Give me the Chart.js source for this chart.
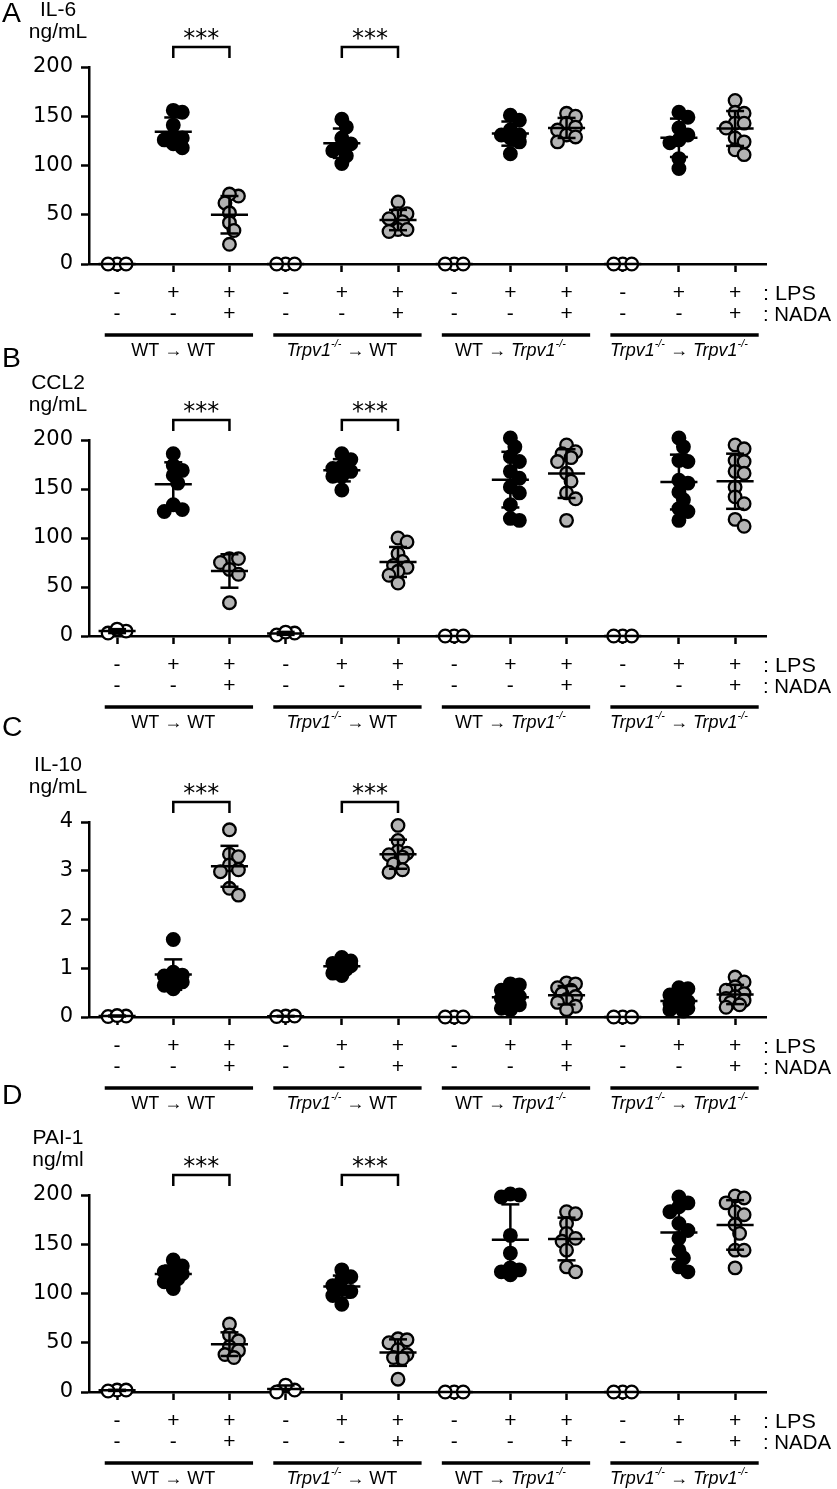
<!DOCTYPE html>
<html>
<head>
<meta charset="utf-8">
<script src="https://cdn.jsdelivr.net/npm/chart.js@4.4.1/dist/chart.umd.min.js"></script>
<style>
  html, body { margin: 0; padding: 0; background: #fff; }
  #figure { position: relative; width: 837px; height: 1489px; }
  #figure canvas { position: absolute; left: 0; }
</style>
</head>
<body>
<div id="figure">
  <canvas id="panelA"></canvas>
  <canvas id="panelB"></canvas>
  <canvas id="panelC"></canvas>
  <canvas id="panelD"></canvas>
</div>
<script>
// treatment rows under every column of dots
const lpsRow  = ['-', '+', '+', '-', '+', '+', '-', '+', '+', '-', '+', '+'];
const nadaRow = ['-', '-', '+', '-', '-', '+', '-', '-', '+', '-', '-', '+'];

// bone marrow donor -> recipient groups (text runs, italic gene names)
const groupLabels = [
  [{ t: 'WT → WT' }],
  [{ t: 'Trpv1', i: true }, { t: '-/-', i: true, sup: true }, { t: ' → WT' }],
  [{ t: 'WT → ' }, { t: 'Trpv1', i: true }, { t: '-/-', i: true, sup: true }],
  [{ t: 'Trpv1', i: true }, { t: '-/-', i: true, sup: true }, { t: ' → ' },
   { t: 'Trpv1', i: true }, { t: '-/-', i: true, sup: true }]
];

// one small array per column (12 columns per panel)
const il6 = [
  [0, 0, 0],
  [154, 156, 141, 130, 128, 126, 122, 118],
  [69, 71, 62, 52, 42, 34, 20],
  [0, 0, 0],
  [147, 139, 128, 122, 118, 115, 110, 102],
  [63, 51, 51, 46, 43, 35, 33, 35],
  [0, 0, 0],
  [151, 146, 136, 131, 131, 128, 124, 112],
  [153, 150, 143, 139, 136, 131, 129, 124],
  [0, 0, 0],
  [154, 149, 138, 131, 126, 123, 107, 97],
  [166, 154, 153, 143, 143, 138, 128, 124, 116, 111]
];

const ccl2 = [
  [5, 3, 7],
  [186, 174, 169, 164, 156, 134, 129, 127],
  [79, 79, 75, 68, 63, 34],
  [3, 1, 4],
  [186, 180, 173, 171, 168, 163, 163, 149],
  [100, 96, 84, 76, 72, 70, 66, 62, 54],
  [0, 0, 0],
  [202, 193, 183, 178, 168, 161, 152, 146, 134, 120, 118],
  [195, 188, 186, 182, 178, 166, 158, 146, 140, 118],
  [0, 0, 0],
  [202, 193, 179, 178, 159, 156, 147, 139, 130, 127, 118],
  [195, 191, 179, 178, 168, 166, 152, 142, 135, 119, 112]
];

const il10 = [
  [0.02, 0.01, 0.03],
  [1.59, 0.92, 0.86, 0.84, 0.80, 0.72, 0.65, 0.58],
  [3.84, 3.34, 3.29, 3.12, 3.02, 2.98, 2.64, 2.50],
  [0.02, 0.02, 0.01],
  [1.22, 1.15, 1.10, 1.08, 1.05, 1.02, 0.98, 0.90, 0.85],
  [3.93, 3.62, 3.40, 3.36, 3.33, 3.28, 3.14, 3.02, 2.97],
  [0, 0, 0],
  [0.68, 0.66, 0.55, 0.48, 0.42, 0.38, 0.32, 0.25, 0.18, 0.15],
  [0.70, 0.68, 0.60, 0.55, 0.48, 0.42, 0.36, 0.30, 0.22, 0.15],
  [0, 0, 0],
  [0.60, 0.58, 0.45, 0.38, 0.32, 0.28, 0.22, 0.18, 0.15, 0.12],
  [0.82, 0.72, 0.62, 0.55, 0.48, 0.42, 0.38, 0.34, 0.30, 0.25, 0.20]
];

const pai1 = [
  [2, 1, 2],
  [134, 128, 124, 122, 120, 118, 115, 112, 105],
  [69, 58, 52, 46, 42, 38, 35],
  [2, 7, 0],
  [124, 117, 114, 108, 104, 102, 98, 89],
  [54, 53, 50, 43, 38, 35, 34, 13],
  [0, 0, 0],
  [201, 200, 198, 159, 141, 126, 124, 122, 119],
  [183, 181, 171, 161, 156, 153, 144, 127, 122],
  [0, 0, 0],
  [198, 192, 188, 183, 171, 164, 156, 144, 136, 127, 122],
  [199, 197, 192, 183, 180, 170, 161, 144, 144, 126]
];

const sigPairs = [[1, 2], [4, 5]];

const panels = [
  { id: 'panelA', letter: 'A', name: 'IL-6',  unit: 'ng/mL', values: il6,  yMax: 200, yStep: 50, canvasTop: 0,    plotTop: 67,   plotBottom: 264,  letterDy: -52 },
  { id: 'panelB', letter: 'B', name: 'CCL2',  unit: 'ng/mL', values: ccl2, yMax: 200, yStep: 50, canvasTop: 345,  plotTop: 440,  plotBottom: 636,  letterDy: -80 },
  { id: 'panelC', letter: 'C', name: 'IL-10', unit: 'ng/mL', values: il10, yMax: 4,   yStep: 1,  canvasTop: 712,  plotTop: 822,  plotBottom: 1017, letterDy: -93 },
  { id: 'panelD', letter: 'D', name: 'PAI-1', unit: 'ng/ml', values: pai1, yMax: 200, yStep: 50, canvasTop: 1080, plotTop: 1195, plotBottom: 1392, letterDy: -98 }
];

const SANS = '"Liberation Sans", Arial, Helvetica, sans-serif';
const fills = ['#ffffff', '#000000', '#b3b3b3'];
const kinds = ['Vehicle', 'LPS', 'LPS + NADA'];
const X_MIN = -0.5, X_MAX = 11.55, AXIS_LEFT = 89, AXIS_RIGHT = 766;

const mean = a => a.reduce((s, v) => s + v, 0) / a.length;
const stdev = a => {
  if (a.length < 2) return 0;
  const m = mean(a);
  return Math.sqrt(a.reduce((s, v) => s + (v - m) * (v - m), 0) / (a.length - 1));
};

// compact beeswarm: dots may overlap a little, spread is capped (pixels in, x units out)
function swarm(vals, pxPerY, pxPerX, minDist, maxOff) {
  const order = vals.map((v, k) => k).sort((a, b) => vals[b] - vals[a]);
  const placed = [];
  const offs = vals.map(() => 0);
  const step = minDist / 2;
  const cands = [0];
  for (let d = step; d <= maxOff + 0.01; d += step) cands.push(d, -d);
  order.forEach(k => {
    const yk = vals[k] * pxPerY;
    const gap = dx => placed.reduce((g, p) => Math.min(g, Math.hypot(p.x - dx, p.y - yk)), Infinity);
    let best = cands.find(dx => gap(dx) >= minDist);
    if (best === undefined) best = cands.reduce((b, dx) => (gap(dx) > gap(b) ? dx : b), 0);
    offs[k] = best;
    placed.push({ x: best, y: yk });
  });
  return offs.map(o => o / pxPerX);
}

function wideText(ctx, text, x, y, font, align, sx) {
  ctx.save();
  ctx.font = font;
  ctx.textAlign = align;
  ctx.translate(x, y);
  ctx.scale(sx, 1);
  ctx.fillText(text, 0, 0);
  ctx.restore();
}

function drawRuns(ctx, runs, cx, cy, size, sx) {
  const fontFor = r => (r.i ? 'italic ' : '') + (r.sup ? size * 0.6 : size) + 'px ' + SANS;
  let total = 0;
  runs.forEach(r => { ctx.font = fontFor(r); total += ctx.measureText(r.t).width * sx; });
  let x = cx - total / 2;
  ctx.save();
  ctx.textBaseline = 'middle';
  runs.forEach(r => {
    ctx.font = fontFor(r);
    const w = ctx.measureText(r.t).width;
    ctx.save();
    ctx.translate(x, cy - (r.sup ? size * 0.38 : 0));
    ctx.scale(sx, 1);
    ctx.textAlign = 'left';
    ctx.fillText(r.t, 0, 0);
    ctx.restore();
    x += w * sx;
  });
  ctx.restore();
}

function makeDecorations(panel) {
  return {
    id: 'decorations',
    afterDatasetsDraw(chart) {
      const { ctx, scales: { x, y } } = chart;
      ctx.save();
      ctx.strokeStyle = '#000';
      ctx.lineWidth = 2.5;
      const seg = (x1, y1, x2, y2) => { ctx.beginPath(); ctx.moveTo(x1, y1); ctx.lineTo(x2, y2); ctx.stroke(); };
      panel.values.forEach((vals, i) => {
        const m = mean(vals), sd = stdev(vals);
        const xc = x.getPixelForValue(i);
        const hm = x.getPixelForValue(i + 0.33) - xc;
        const hc = x.getPixelForValue(i + 0.16) - xc;
        const ym = y.getPixelForValue(m);
        seg(xc - hm, ym, xc + hm, ym);
        if (sd > 0) {
          const yt = y.getPixelForValue(m + sd), yb = y.getPixelForValue(Math.max(0, m - sd));
          seg(xc, yt, xc, yb);
          seg(xc - hc, yt, xc + hc, yt);
          if (m - sd > 0) seg(xc - hc, yb, xc + hc, yb);
        }
      });
      ctx.restore();
    },
    afterDraw(chart) {
      const { ctx, chartArea: area, scales: { x } } = chart;
      ctx.save();
      ctx.fillStyle = '#000';
      ctx.strokeStyle = '#000';
      ctx.textBaseline = 'middle';

      // panel letter, analyte and unit
      wideText(ctx, panel.letter, 2, area.top + panel.letterDy, '27px ' + SANS, 'left', 1.05);
      wideText(ctx, panel.name, 58, area.top - 57, '21px ' + SANS, 'center', 1.0);
      wideText(ctx, panel.unit, 58, area.top - 35, '21px ' + SANS, 'center', 1.0);

      // significance brackets
      ctx.lineWidth = 2.5;
      sigPairs.forEach(([a, b]) => {
        const x1 = x.getPixelForValue(a), x2 = x.getPixelForValue(b);
        ctx.beginPath();
        ctx.moveTo(x1, area.top - 9);
        ctx.lineTo(x1, area.top - 20);
        ctx.lineTo(x2, area.top - 20);
        ctx.lineTo(x2, area.top - 9);
        ctx.stroke();
        ctx.save();
        ctx.textBaseline = 'alphabetic';
        wideText(ctx, '***', (x1 + x2) / 2, area.top - 21, '24px "DejaVu Sans", ' + SANS, 'center', 1);
        ctx.restore();
      });

      // row captions
      wideText(ctx, ': LPS', 763, area.bottom + 30, '20px ' + SANS, 'left', 1.08);
      wideText(ctx, ': NADA', 763, area.bottom + 51, '20px ' + SANS, 'left', 1.02);

      // group underlines and names
      ctx.lineWidth = 3.5;
      groupLabels.forEach((runs, g) => {
        const xa = x.getPixelForValue(g * 3 - 0.22), xb = x.getPixelForValue(g * 3 + 2.42);
        ctx.beginPath();
        ctx.moveTo(xa, area.bottom + 71);
        ctx.lineTo(xb, area.bottom + 71);
        ctx.stroke();
        drawRuns(ctx, runs, x.getPixelForValue(g * 3 + 1), area.bottom + 87, 18, 1.0);
      });
      ctx.restore();
    }
  };
}

Chart.defaults.color = '#000';
Chart.defaults.font.family = SANS;

panels.forEach(panel => {
  const canvasBottom = panel.plotBottom + 97;
  const height = (panel.id === 'panelD' ? 1489 : canvasBottom) - panel.canvasTop;
  const el = document.getElementById(panel.id);
  el.width = 837;
  el.height = height;
  el.style.top = panel.canvasTop + 'px';
  el.style.width = '837px';
  el.style.height = height + 'px';

  const pxPerX = (AXIS_RIGHT - AXIS_LEFT) / (X_MAX - X_MIN);
  const pxPerY = (panel.plotBottom - panel.plotTop) / panel.yMax;

  const datasets = kinds.map((label, k) => ({
    label,
    data: [],
    pointRadius: 6.3,
    pointHoverRadius: 6.3,
    pointBackgroundColor: fills[k],
    pointBorderColor: '#000',
    pointBorderWidth: 2.3,
    showLine: false,
    clip: false
  }));
  panel.values.forEach((vals, i) => {
    const offs = swarm(vals, pxPerY, pxPerX, 9, 13);
    vals.forEach((v, j) => datasets[i % 3].data.push({ x: i + offs[j], y: v }));
  });

  const axisGrid = { display: true, drawOnChartArea: false, drawTicks: true, tickLength: 8, tickWidth: 2.5, tickColor: '#000' };
  const axisBorder = { display: true, color: '#000', width: 2.5 };

  new Chart(el, {
    type: 'scatter',
    data: { datasets },
    options: {
      responsive: false,
      animation: false,
      devicePixelRatio: 1,
      events: [],
      layout: { padding: { left: 0, right: 837 - AXIS_RIGHT, top: panel.plotTop - panel.canvasTop, bottom: 0 } },
      plugins: { legend: { display: false }, tooltip: { enabled: false } },
      scales: {
        x: {
          type: 'linear',
          min: X_MIN,
          max: X_MAX,
          afterBuildTicks: s => { s.ticks = lpsRow.map((_, i) => ({ value: i })); },
          afterFit: s => { s.height = height - (panel.plotBottom - panel.canvasTop); },
          grid: axisGrid,
          border: axisBorder,
          ticks: {
            autoSkip: false,
            maxRotation: 0,
            padding: 11,
            color: '#000',
            font: { size: 21, lineHeight: 1.0 },
            callback: v => [lpsRow[v], nadaRow[v]]
          }
        },
        y: {
          type: 'linear',
          min: 0,
          max: panel.yMax,
          afterFit: s => { s.width = AXIS_LEFT; },
          grid: axisGrid,
          border: axisBorder,
          ticks: {
            stepSize: panel.yStep,
            padding: 8,
            color: '#000',
            font: { family: '"DejaVu Sans", ' + SANS, size: 21 }
          }
        }
      }
    },
    plugins: [makeDecorations(panel)]
  });
});
</script>
</body>
</html>
